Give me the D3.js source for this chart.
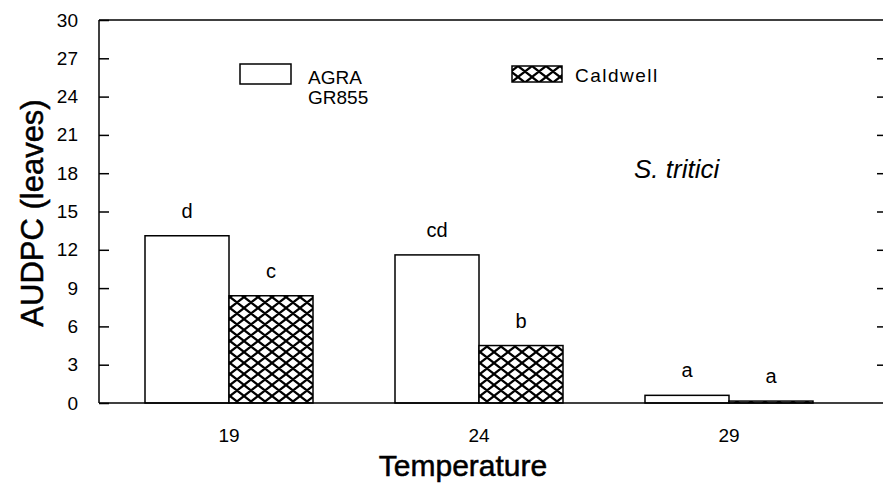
<!DOCTYPE html>
<html><head><meta charset="utf-8">
<script src="https://cdn.jsdelivr.net/npm/d3@7"></script>
<style>
body{margin:0;background:#fff;}
text{font-family:"Liberation Sans",Arial,sans-serif;fill:#000;}
</style></head>
<body>
<svg id="chart" width="883" height="488"></svg>
<script>
const categories = ["19", "24", "29"];
const seriesNames = ["AGRA GR855", "Caldwell"];
const agraValues = [13.1, 11.6, 0.6];
const caldwellValues = [8.4, 4.5, 0.15];
const agraLetters = ["d", "cd", "a"];
const caldwellLetters = ["c", "b", "a"];
const yTicks = [0, 3, 6, 9, 12, 15, 18, 21, 24, 27, 30];

const svg = d3.select("#chart");
const mLeft = 99, mRight = 883, mTop = 20, mBottom = 403;

const defs = svg.append("defs");
const pat = defs.append("pattern").attr("id", "hatch")
  .attr("patternUnits", "userSpaceOnUse").attr("width", 14).attr("height", 11);
pat.append("rect").attr("width", 14).attr("height", 11).attr("fill", "#fff");
pat.append("path").attr("d", "M-3.5,-2.75L17.5,13.75M17.5,-2.75L-3.5,13.75M-3.5,8.25L3.5,13.75M10.5,-2.75L17.5,2.75M10.5,13.75L17.5,8.25M-3.5,2.75L3.5,-2.75")
  .attr("stroke", "#000").attr("stroke-width", 2.2);

const y = d3.scaleLinear().domain([0, 30]).range([mBottom, mTop]);
const x = d3.scaleBand().domain(categories).range([104, 854]);
const xs = d3.scaleBand().domain(seriesNames).range([x.bandwidth()/2 - 84, x.bandwidth()/2 + 84]);

svg.append("line").attr("x1", mLeft).attr("x2", mLeft).attr("y1", mTop).attr("y2", mBottom).attr("stroke", "#000").attr("stroke-width", 1.5);
svg.append("line").attr("x1", mLeft).attr("x2", mRight).attr("y1", mTop).attr("y2", mTop).attr("stroke", "#000").attr("stroke-width", 1.5);

const yAxis = d3.axisLeft(y).tickValues(yTicks).tickSize(-10).tickPadding(21).tickFormat(d3.format("d"));
const ga = svg.append("g").attr("transform", `translate(${mLeft},0)`).call(yAxis);
ga.select(".domain").remove();
ga.selectAll(".tick line").attr("stroke", "#000").attr("stroke-width", 1.5);
ga.selectAll(".tick text").style("font-size", "19px").style("font-family", "Liberation Sans, Arial, sans-serif");

const yAxisR = d3.axisRight(y).tickValues(yTicks.filter(d => d > 0 && d < 30)).tickSize(-6).tickFormat("");
const gr = svg.append("g").attr("transform", `translate(${mRight},0)`).call(yAxisR);
gr.select(".domain").remove();
gr.selectAll(".tick line").attr("stroke", "#000").attr("stroke-width", 1.5);

const data = categories.map((c, i) => ({cat: c, vals: [
  {s: seriesNames[0], v: agraValues[i], l: agraLetters[i]},
  {s: seriesNames[1], v: caldwellValues[i], l: caldwellLetters[i]}]}));
const groups = svg.append("g").selectAll("g").data(data).join("g")
  .attr("transform", d => `translate(${x(d.cat)},0)`);
groups.selectAll("rect").data(d => d.vals).join("rect")
  .attr("x", d => xs(d.s)).attr("width", xs.bandwidth())
  .attr("y", d => y(d.v)).attr("height", d => y(0) - y(d.v))
  .attr("fill", (d, i) => i === 0 ? "#fff" : "url(#hatch)")
  .attr("stroke", "#000").attr("stroke-width", 1.5);
groups.selectAll("text").data(d => d.vals).join("text")
  .attr("x", d => xs(d.s) + xs.bandwidth()/2).attr("y", d => y(d.v) - 18)
  .attr("text-anchor", "middle").style("font-size", "20px").text(d => d.l);

svg.append("line").attr("x1", mLeft).attr("x2", mRight).attr("y1", mBottom).attr("y2", mBottom).attr("stroke", "#000").attr("stroke-width", 1.5);

const xAxis = d3.axisBottom(x).tickSize(0).tickPadding(26);
const gx = svg.append("g").attr("transform", `translate(0,${mBottom})`).call(xAxis);
gx.select(".domain").remove();
gx.selectAll(".tick text").style("font-size", "19px").style("font-family", "Liberation Sans, Arial, sans-serif");

svg.append("text").attr("x", 463).attr("y", 476).attr("text-anchor", "middle").style("font-size", "30px").style("stroke", "#000").style("stroke-width", 0.5).text("Temperature");
svg.append("text").attr("transform", "translate(43,213) rotate(-90)").attr("text-anchor", "middle").style("font-size", "31px").style("stroke", "#000").style("stroke-width", 0.5).text("AUDPC (leaves)");

svg.append("text").attr("x", 634).attr("y", 178).style("font-size", "26px").style("font-style", "italic").text("S. tritici");

svg.append("rect").attr("x", 240).attr("y", 64).attr("width", 51).attr("height", 20).attr("fill", "#fff").attr("stroke", "#000").attr("stroke-width", 1.5);
svg.append("text").attr("x", 308).attr("y", 84).style("font-size", "19px").text("AGRA");
svg.append("text").attr("x", 308).attr("y", 104).style("font-size", "19px").text("GR855");
svg.append("rect").attr("x", 512).attr("y", 66).attr("width", 50).attr("height", 16).attr("fill", "url(#hatch)").attr("stroke", "#000").attr("stroke-width", 1.5);
svg.append("text").attr("x", 575).attr("y", 82).style("font-size", "19px").style("letter-spacing", "1.5px").text("Caldwell");
</script>
</body></html>
